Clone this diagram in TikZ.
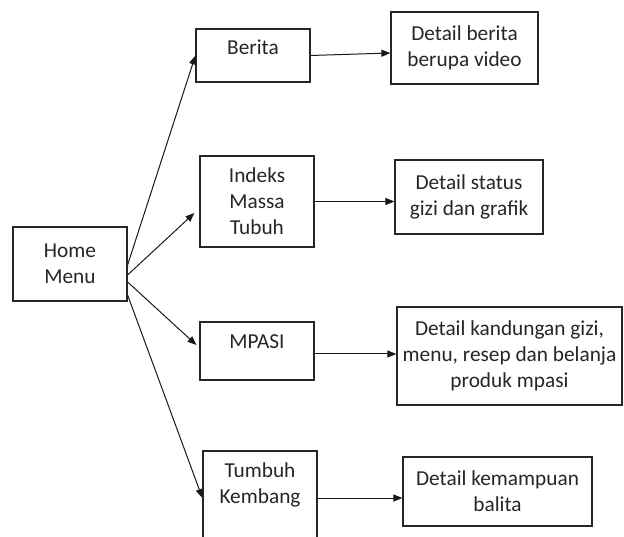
\documentclass[tikz,border=0pt]{standalone}
\usepackage{fontspec}
\setmainfont{Carlito}
\usetikzlibrary{arrows.meta,calc}
\begin{document}
\begin{tikzpicture}[x=1pt,y=-1pt,
  box/.style={draw=black!85,line width=1.2pt,rectangle,inner sep=0pt,align=center,
    font=\fontsize{21.3}{26}\selectfont,text=black!85},
  lbl/.style={inner sep=0pt,font=\fontsize{21.3}{26}\selectfont,text=black!85},
  arr/.style={draw=black!90,line width=1pt,-{Triangle[length=9pt,width=7pt]}}]
\useasboundingbox (0,0) rectangle (624,537);
\clip (0,0) rectangle (624,537);
\fill[white] (0,0) rectangle (624,537);
% boxes
\node[box,minimum width=114pt,minimum height=74pt] (home) at (70,264) {Home\\Menu};
\node[box,minimum width=114pt,minimum height=53pt] (berita) at (253,55.5) {};
\node[lbl] (beritat) at (253,47) {Berita};
\node[box,minimum width=114pt,minimum height=91pt] (imt) at (257,201.5) {Indeks\\Massa\\Tubuh};
\node[box,minimum width=114pt,minimum height=58pt] (mpasi) at (257,351) {};
\node[lbl] (mpasit) at (257,342) {MPASI};
\node[box,minimum width=114pt,minimum height=94pt] (tk) at (260,498) {};
\node[lbl,align=center] (tkt) at (260,484.5) {Tumbuh\\Kembang};
\node[box,minimum width=147pt,minimum height=72pt] (dberita) at (464.5,48) {Detail berita\\berupa video};
\node[box,minimum width=148pt,minimum height=74pt] (dstatus) at (469,197) {Detail status\\gizi dan grafik};
\node[box,minimum width=225pt,minimum height=98pt] (dgizi) at (509.5,356) {Detail kandungan gizi,\\menu, resep dan belanja\\produk mpasi};
\node[box,minimum width=189pt,minimum height=69pt] (dkemam) at (497.5,491.5) {Detail kemampuan\\balita};
% hub points on Home Menu
\coordinate (h1) at ($(home.east)+(0,1)$);
\coordinate (h2) at ($(home.east)+(0,11)$);
\coordinate (h3) at ($(home.east)+(0,18)$);
\coordinate (h4) at ($(home.east)+(0,31)$);
\coordinate (e2) at ($(imt.west)+(-5,11.5)$);
\coordinate (e3) at ($(mpasi.west)+(-3,-6)$);
\draw[arr] (h1) -- (berita.west);
\draw[arr] (h2) -- (e2);
\draw[arr] (h3) -- (e3);
\draw[arr] (h4) -- (tk.west);
% horizontal connectors
\coordinate (e5) at ($(dberita.west)+(0,5)$);
\draw[arr] (berita.east) -- (e5);
\draw[arr] (imt.east) -- (imt.east -| dstatus.west);
\coordinate (m1) at ($(mpasi.east)+(0,3)$);
\draw[arr] (m1) -- (m1 -| dgizi.west);
\draw[arr] (tk.east) -- (tk.east -| dkemam.west);
\end{tikzpicture}
\end{document}
